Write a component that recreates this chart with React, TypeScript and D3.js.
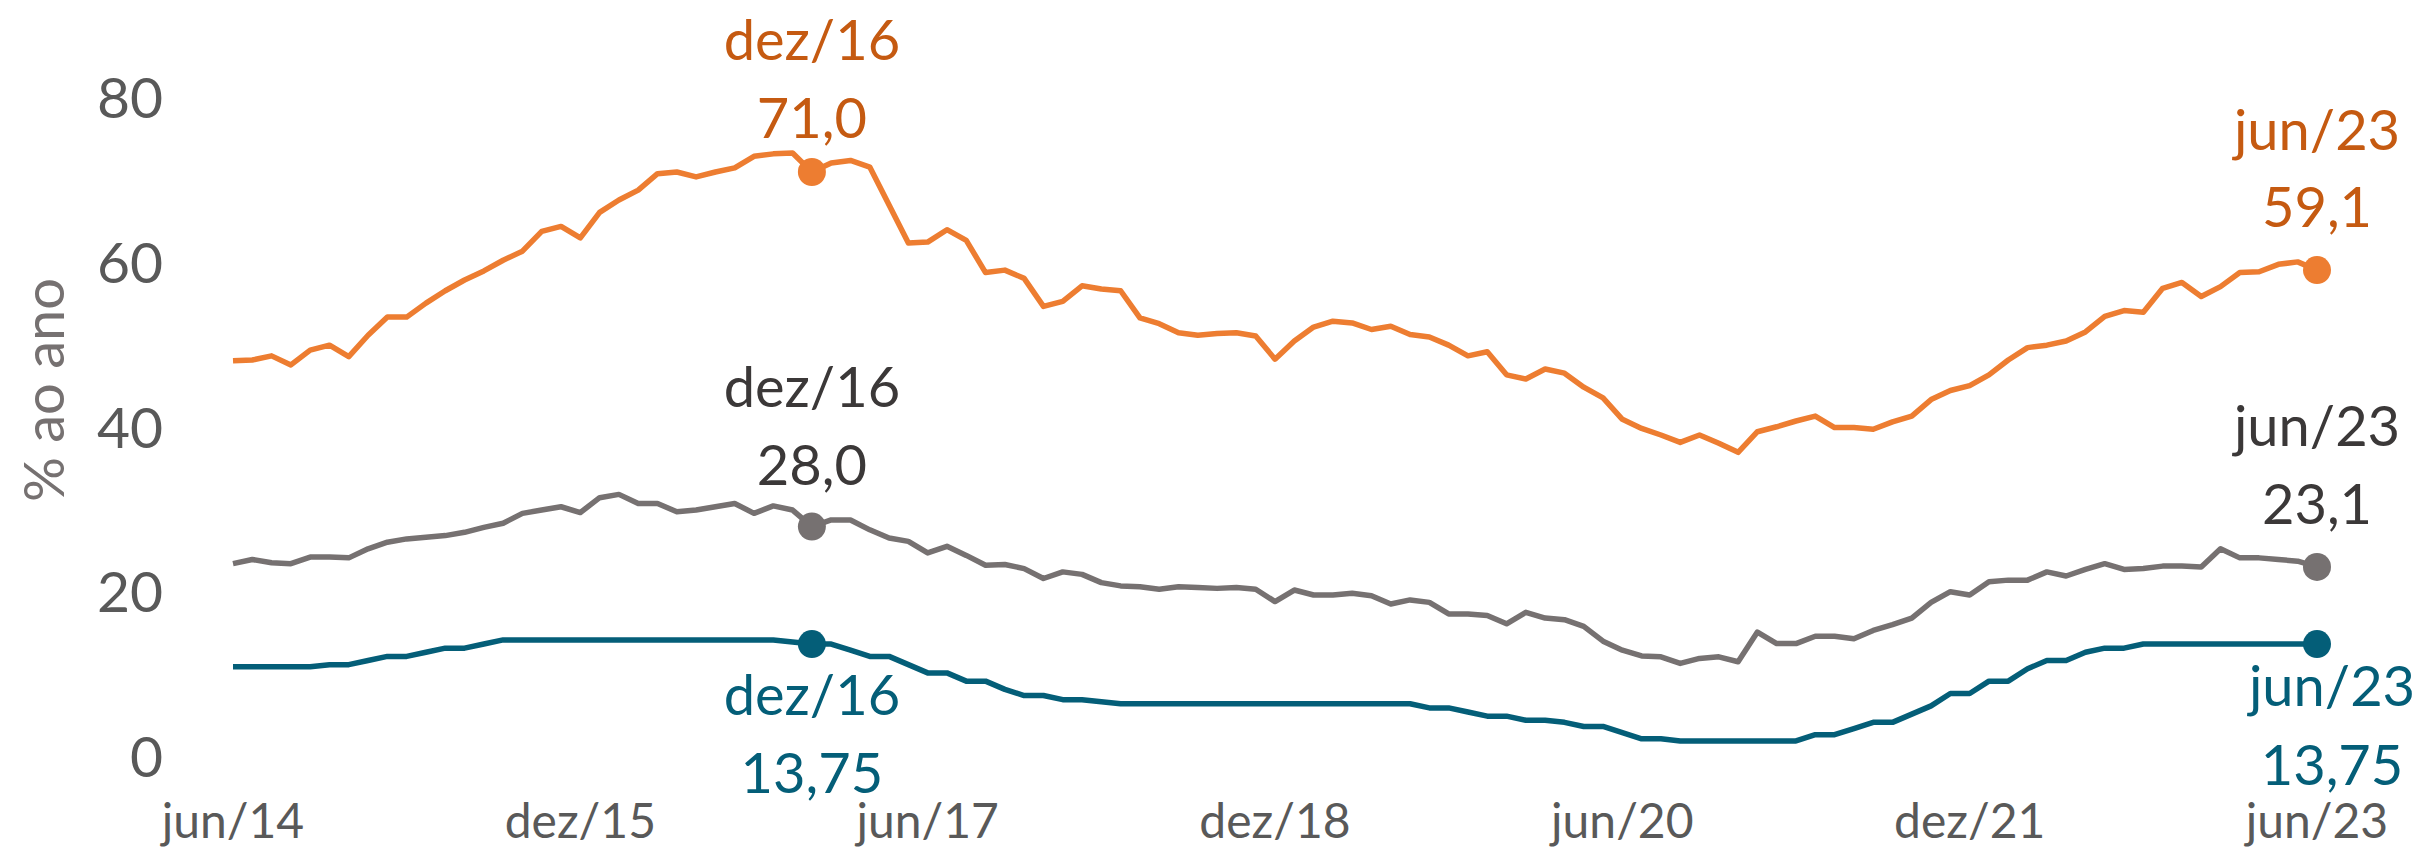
import React, { useEffect, useRef } from 'react';
import * as d3 from 'd3';

// monthly data, jun/14 .. jun/23
const monthNames = ['jan', 'fev', 'mar', 'abr', 'mai', 'jun', 'jul', 'ago', 'set', 'out', 'nov', 'dez'];
const months: string[] = [];
for (let k = 0; k < 109; k++) {
  const m = (5 + k) % 12;
  const yr = 14 + Math.floor((5 + k) / 12);
  months.push(`${monthNames[m]}/${yr}`);
}

const xTickLabels = ['jun/14', 'dez/15', 'jun/17', 'dez/18', 'jun/20', 'dez/21', 'jun/23'];
const yTicks = [0, 20, 40, 60, 80];

const orangeSeries = [
  48.1, 48.2, 48.7, 47.6, 49.4, 50.0, 48.6, 51.2, 53.4, 53.4,
  55.1, 56.6, 57.9, 59.0, 60.3, 61.4, 63.8, 64.4, 63.0, 66.1,
  67.6, 68.8, 70.8, 71.0, 70.4, 71.0, 71.5, 72.9, 73.2, 73.3,
  71.0, 72.1, 72.4, 71.6, 67.0, 62.4, 62.5, 64.0, 62.7, 58.8,
  59.1, 58.1, 54.7, 55.3, 57.2, 56.8, 56.6, 53.3, 52.6, 51.5,
  51.2, 51.4, 51.5, 51.1, 48.3, 50.5, 52.2, 52.9, 52.7, 51.9,
  52.3, 51.3, 51.0, 50.0, 48.7, 49.2, 46.4, 45.9, 47.1, 46.6,
  44.9, 43.6, 41.0, 39.9, 39.1, 38.2, 39.1, 38.1, 37.0, 39.5,
  40.1, 40.8, 41.4, 40.0, 40.0, 39.8, 40.7, 41.4, 43.4, 44.5,
  45.1, 46.4, 48.2, 49.7, 50.0, 50.5, 51.6, 53.5, 54.2, 54.0,
  56.9, 57.6, 55.9, 57.1, 58.8, 58.9, 59.8, 60.1, 59.1,
];

const graySeries = [
  23.5, 24.0, 23.6, 23.5, 24.3, 24.3, 24.2, 25.3, 26.1, 26.5,
  26.7, 26.9, 27.3, 27.9, 28.4, 29.6, 30.0, 30.4, 29.7, 31.5,
  31.9, 30.8, 30.8, 29.8, 30.0, 30.4, 30.8, 29.6, 30.5, 30.0,
  28.0, 28.8, 28.8, 27.6, 26.6, 26.2, 24.8, 25.6, 24.5, 23.3,
  23.4, 22.9, 21.7, 22.5, 22.2, 21.2, 20.8, 20.7, 20.4, 20.7,
  20.6, 20.5, 20.6, 20.4, 18.9, 20.3, 19.7, 19.7, 19.9, 19.6,
  18.6, 19.1, 18.8, 17.4, 17.4, 17.2, 16.2, 17.6, 16.9, 16.7,
  15.9, 14.1, 13.0, 12.3, 12.2, 11.4, 12.0, 12.2, 11.6, 15.2,
  13.8, 13.8, 14.7, 14.7, 14.4, 15.4, 16.1, 16.9, 18.8, 20.1,
  19.7, 21.3, 21.5, 21.5, 22.5, 22.0, 22.8, 23.5, 22.8, 22.9,
  23.2, 23.2, 23.1, 25.3, 24.2, 24.2, 24.0, 23.8, 23.1,
];

const tealSeries = [
  11.0, 11.0, 11.0, 11.0, 11.0, 11.25, 11.25, 11.75, 12.25, 12.25,
  12.75, 13.25, 13.25, 13.75, 14.25, 14.25, 14.25, 14.25, 14.25, 14.25,
  14.25, 14.25, 14.25, 14.25, 14.25, 14.25, 14.25, 14.25, 14.25, 14.0,
  13.75, 13.75, 13.0, 12.25, 12.25, 11.25, 10.25, 10.25, 9.25, 9.25,
  8.25, 7.5, 7.5, 7.0, 7.0, 6.75, 6.5, 6.5, 6.5, 6.5,
  6.5, 6.5, 6.5, 6.5, 6.5, 6.5, 6.5, 6.5, 6.5, 6.5,
  6.5, 6.5, 6.0, 6.0, 5.5, 5.0, 5.0, 4.5, 4.5, 4.25,
  3.75, 3.75, 3.0, 2.25, 2.25, 2.0, 2.0, 2.0, 2.0, 2.0,
  2.0, 2.0, 2.75, 2.75, 3.5, 4.25, 4.25, 5.25, 6.25, 7.75,
  7.75, 9.25, 9.25, 10.75, 11.75, 11.75, 12.75, 13.25, 13.25, 13.75,
  13.75, 13.75, 13.75, 13.75, 13.75, 13.75, 13.75, 13.75, 13.75,
];

const series = [
  { name: 'orange', values: orangeSeries, line: '#ED7D31', text: '#C55A11' },
  { name: 'gray', values: graySeries, line: '#767171', text: '#3B3838' },
  { name: 'teal', values: tealSeries, line: '#045E78', text: '#045E78' },
];

// highlighted points: series, month, value label, text offsets from the dot
const annotations = [
  { s: 0, month: 'dez/16', label: '71,0', dy1: -112, dy2: -34, dx: 0 },
  { s: 1, month: 'dez/16', label: '28,0', dy1: -120, dy2: -42, dx: 0 },
  { s: 2, month: 'dez/16', label: '13,75', dy1: 71, dy2: 149, dx: 0 },
  { s: 0, month: 'jun/23', label: '59,1', dy1: -120, dy2: -43, dx: 0 },
  { s: 1, month: 'jun/23', label: '23,1', dy1: -121, dy2: -43, dx: 0 },
  { s: 2, month: 'jun/23', label: '13,75', dy1: 62, dy2: 141, dx: 15 },
];

const W = 2425;
const H = 852;
const FONT = 'Lato, "Open Sans", sans-serif';

const App = () => {
  const svgRef = useRef(null);

  useEffect(() => {
    const svg = d3.select(svgRef.current);
    svg.selectAll('*').remove();

    const x = d3.scaleLinear().domain([0, months.length - 1]).range([233, 2317]);
    const y = d3.scaleLinear().domain([0, 80]).range([757.4, 97.8]);

    // y axis labels
    svg.append('g')
      .selectAll('text')
      .data(yTicks)
      .enter()
      .append('text')
      .attr('x', 163)
      .attr('y', d => y(d))
      .attr('dy', '0.35em')
      .attr('text-anchor', 'end')
      .attr('font-family', FONT)
      .attr('font-size', 57)
      .attr('fill', '#595959')
      .text(d => d);

    svg.append('text')
      .attr('transform', 'translate(64, 390) rotate(-90)')
      .attr('text-anchor', 'middle')
      .attr('font-family', FONT)
      .attr('font-size', 56)
      .attr('fill', '#767171')
      .text('% ao ano');

    // x axis labels
    svg.append('g')
      .selectAll('text')
      .data(xTickLabels)
      .enter()
      .append('text')
      .attr('x', d => x(months.indexOf(d)))
      .attr('y', 838)
      .attr('text-anchor', 'middle')
      .attr('font-family', FONT)
      .attr('font-size', 48)
      .attr('fill', '#595959')
      .text(d => d);

    const line = d3.line<number>()
      .x((d, i) => x(i))
      .y(d => y(d));

    svg.append('g')
      .selectAll('path')
      .data(series)
      .enter()
      .append('path')
      .attr('d', d => line(d.values))
      .attr('fill', 'none')
      .attr('stroke', d => d.line)
      .attr('stroke-width', 5.5)
      .attr('stroke-linejoin', 'round');

    // dots and labels
    const ann = svg.append('g');
    annotations.forEach(a => {
      const s = series[a.s];
      const i = months.indexOf(a.month);
      const cx = x(i);
      const cy = y(s.values[i]);
      ann.append('circle')
        .attr('cx', cx)
        .attr('cy', cy)
        .attr('r', 14)
        .attr('fill', s.line);
      ann.append('text')
        .attr('x', cx + a.dx)
        .attr('y', cy + a.dy1)
        .attr('text-anchor', 'middle')
        .attr('font-family', FONT)
        .attr('font-size', 56)
        .attr('fill', s.text)
        .text(a.month);
      ann.append('text')
        .attr('x', cx + a.dx)
        .attr('y', cy + a.dy2)
        .attr('text-anchor', 'middle')
        .attr('font-family', FONT)
        .attr('font-size', 56)
        .attr('fill', s.text)
        .text(a.label);
    });
  }, []);

  return (
    <svg
      ref={svgRef}
      width={W}
      height={H}
      style={{ position: 'absolute', left: 0, top: 0, background: '#fff' }}
    ></svg>
  );
};

export default App;
